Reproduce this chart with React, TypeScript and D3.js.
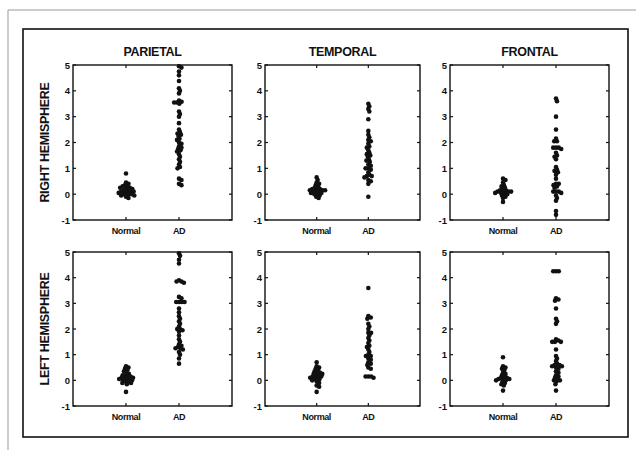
import * as d3 from "d3";

// region / hemisphere labels
const regions = ["PARIETAL", "TEMPORAL", "FRONTAL"];
const hemispheres = ["RIGHT HEMISPHERE", "LEFT HEMISPHERE"];
const groups = ["Normal", "AD"];
const yTicks = [-1, 0, 1, 2, 3, 4, 5];

// right hemisphere
const rightParietalNormal = [0.8, 0.45, 0.4, 0.35, 0.3, 0.3, 0.25, 0.25, 0.2, 0.2, 0.15, 0.15, 0.1, 0.1, 0.1, 0.05, 0.05, 0.0, 0.0, 0.0, -0.05, -0.05, -0.1, -0.15];
const rightParietalAD = [4.95, 4.9, 4.75, 4.6, 4.38, 4.1, 4.0, 3.9, 3.62, 3.58, 3.55, 3.55, 3.5, 3.2, 3.1, 3.0, 2.75, 2.5, 2.4, 2.35, 2.3, 2.25, 2.15, 2.1, 2.0, 1.95, 1.85, 1.8, 1.75, 1.7, 1.65, 1.55, 1.45, 1.35, 1.25, 1.15, 1.05, 1.0, 0.6, 0.55, 0.4, 0.35];
const rightTemporalNormal = [0.65, 0.55, 0.45, 0.4, 0.35, 0.3, 0.25, 0.2, 0.2, 0.2, 0.15, 0.15, 0.15, 0.1, 0.1, 0.1, 0.05, 0.05, 0.0, 0.0, -0.05, -0.1, -0.15];
const rightTemporalAD = [3.5, 3.4, 3.3, 3.2, 2.9, 2.45, 2.3, 2.2, 2.1, 2.05, 1.95, 1.85, 1.8, 1.7, 1.6, 1.55, 1.5, 1.45, 1.35, 1.3, 1.25, 1.15, 1.1, 1.0, 1.0, 0.95, 0.85, 0.75, 0.7, 0.7, 0.65, 0.55, 0.5, 0.4, -0.1];
const rightFrontalNormal = [0.6, 0.55, 0.45, 0.35, 0.3, 0.25, 0.2, 0.15, 0.15, 0.1, 0.1, 0.1, 0.1, 0.05, 0.05, 0.0, 0.0, -0.05, -0.1, -0.15, -0.3];
const rightFrontalAD = [3.7, 3.6, 3.0, 2.5, 2.15, 2.05, 2.05, 1.8, 1.8, 1.8, 1.75, 1.6, 1.5, 1.45, 1.35, 1.05, 0.95, 0.9, 0.85, 0.75, 0.6, 0.4, 0.4, 0.35, 0.3, 0.25, 0.1, 0.1, 0.1, 0.05, -0.05, -0.15, -0.25, -0.65, -0.8];

// left hemisphere
const leftParietalNormal = [0.55, 0.5, 0.45, 0.4, 0.35, 0.3, 0.25, 0.2, 0.2, 0.15, 0.15, 0.1, 0.1, 0.1, 0.05, 0.05, 0.05, 0.0, 0.0, -0.05, -0.05, -0.1, -0.1, -0.15, -0.45];
const leftParietalAD = [4.95, 4.85, 4.7, 4.55, 3.9, 3.85, 3.85, 3.8, 3.25, 3.2, 3.05, 3.05, 3.05, 3.05, 2.8, 2.65, 2.5, 2.4, 2.3, 2.2, 2.1, 2.0, 2.0, 1.95, 1.9, 1.75, 1.6, 1.5, 1.4, 1.35, 1.3, 1.25, 1.25, 1.2, 1.1, 1.0, 0.85, 0.65];
const leftTemporalNormal = [0.7, 0.55, 0.5, 0.45, 0.4, 0.35, 0.3, 0.3, 0.25, 0.25, 0.2, 0.2, 0.15, 0.15, 0.1, 0.1, 0.05, 0.05, 0.0, -0.05, -0.1, -0.2, -0.25, -0.45];
const leftTemporalAD = [3.6, 2.5, 2.45, 2.4, 2.2, 2.1, 2.0, 1.85, 1.85, 1.75, 1.65, 1.55, 1.45, 1.35, 1.3, 1.2, 1.1, 1.0, 0.95, 0.95, 0.85, 0.8, 0.7, 0.65, 0.6, 0.5, 0.45, 0.15, 0.15, 0.15, 0.1];
const leftFrontalNormal = [0.9, 0.55, 0.5, 0.45, 0.4, 0.3, 0.25, 0.2, 0.15, 0.1, 0.1, 0.05, 0.05, 0.05, 0.0, 0.0, -0.05, -0.1, -0.15, -0.2, -0.4];
const leftFrontalAD = [4.25, 4.25, 4.25, 3.2, 3.15, 3.1, 2.8, 2.4, 2.3, 2.2, 1.6, 1.55, 1.5, 1.5, 1.5, 1.2, 0.95, 0.85, 0.75, 0.65, 0.6, 0.6, 0.55, 0.55, 0.5, 0.45, 0.35, 0.3, 0.2, 0.15, 0.1, 0.05, 0.0, 0.0, -0.05, -0.15, -0.4];

const panelData = [
  [[rightParietalNormal, rightParietalAD], [rightTemporalNormal, rightTemporalAD], [rightFrontalNormal, rightFrontalAD]],
  [[leftParietalNormal, leftParietalAD], [leftTemporalNormal, leftTemporalAD], [leftFrontalNormal, leftFrontalAD]],
];

const W = 636;
const H = 450;
const colX = [[73, 232], [265, 420], [450, 609]];
const rowY = [[65, 220], [252, 406]];
const R = 2.3;
const FONT = "'Liberation Sans', Arial, sans-serif";

// simple beeswarm: push each dot sideways to the nearest free spot (dots may overlap a lot)
function swarm(values: number[], y: (v: number) => number) {
  const D = R * 2 * 0.6;
  const placed: { py: number; dx: number }[] = [];
  const sorted = [...values].sort((a, b) => b - a);
  sorted.forEach((v) => {
    const py = y(v);
    const blocks: [number, number][] = [];
    const cands = [0];
    placed.forEach((p) => {
      const dy = Math.abs(p.py - py);
      if (dy < D) {
        const h = Math.sqrt(D * D - dy * dy);
        blocks.push([p.dx - h, p.dx + h]);
        cands.push(p.dx - h, p.dx + h);
      }
    });
    cands.sort((a, b) => Math.abs(a) - Math.abs(b) || b - a);
    const dx =
      cands.find((c) => blocks.every(([a, b]) => c <= a + 1e-6 || c >= b - 1e-6)) ?? 0;
    placed.push({ py, dx });
  });
  return placed;
}

function Panel({ row, col }: { row: number; col: number }) {
  const [x0, x1] = colX[col];
  const [y0, y1] = rowY[row];
  const x = d3.scaleLinear().domain([0, 3]).range([x0, x1]);
  const y = d3.scaleLinear().domain([-1, 5]).range([y1, y0]);
  const tl = 3;
  return (
    <g>
      {panelData[row][col].map((vals, gi) =>
        swarm(vals, y).map((p, i) => (
          <circle key={`${gi}-${i}`} cx={x(gi + 1) + p.dx} cy={p.py} r={R} fill="#111" />
        ))
      )}
      <rect x={x0} y={y0} width={x1 - x0} height={y1 - y0} fill="none" stroke="#111" strokeWidth={1.4} />
      {yTicks.map((t) => (
        <g key={t}>
          <line x1={x0} x2={x0 + tl} y1={y(t)} y2={y(t)} stroke="#111" strokeWidth={1.2} />
          <line x1={x1} x2={x1 - tl} y1={y(t)} y2={y(t)} stroke="#111" strokeWidth={1.2} />
          <text x={x0 - 3} y={y(t) + 3.5} textAnchor="end" fontSize={9.5} fontWeight="bold" fontFamily={FONT} fill="#111">
            {t}
          </text>
        </g>
      ))}
      {groups.map((g, gi) => (
        <g key={g}>
          <line x1={x(gi + 1)} x2={x(gi + 1)} y1={y0} y2={y0 + tl} stroke="#111" strokeWidth={1.2} />
          <line x1={x(gi + 1)} x2={x(gi + 1)} y1={y1} y2={y1 - tl} stroke="#111" strokeWidth={1.2} />
          <text x={x(gi + 1)} y={y1 + 14} textAnchor="middle" fontSize={9} fontWeight="bold" fontFamily={FONT} letterSpacing={-0.4} fill="#111">
            {g}
          </text>
        </g>
      ))}
    </g>
  );
}

export default function App() {
  return (
    <svg width={W} height={H} style={{ position: "absolute", left: 0, top: 0, background: "#fff" }}>
      <rect x={0} y={0} width={W} height={H} fill="#fff" />
      <line x1={8} x2={W} y1={10} y2={10} stroke="#999" strokeWidth={1} />
      <line x1={8} x2={8} y1={10} y2={H} stroke="#999" strokeWidth={1} />
      <rect x={23} y={29} width={605} height={408} fill="none" stroke="#111" strokeWidth={1.6} />
      {regions.map((r, c) => (
        <text key={r} x={(colX[c][0] + colX[c][1]) / 2} y={56} textAnchor="middle" fontSize={12.5} fontWeight="bold" fontFamily={FONT} letterSpacing={-0.3} fill="#111">
          {r}
        </text>
      ))}
      {hemispheres.map((h, r) => {
        const cy = (rowY[r][0] + rowY[r][1]) / 2;
        return (
          <text key={h} transform={`translate(49,${cy}) rotate(-90)`} textAnchor="middle" fontSize={12.5} fontWeight="bold" fontFamily={FONT} letterSpacing={-0.3} fill="#111">
            {h}
          </text>
        );
      })}
      {[0, 1].map((r) => [0, 1, 2].map((c) => <Panel key={`${r}-${c}`} row={r} col={c} />))}
    </svg>
  );
}
